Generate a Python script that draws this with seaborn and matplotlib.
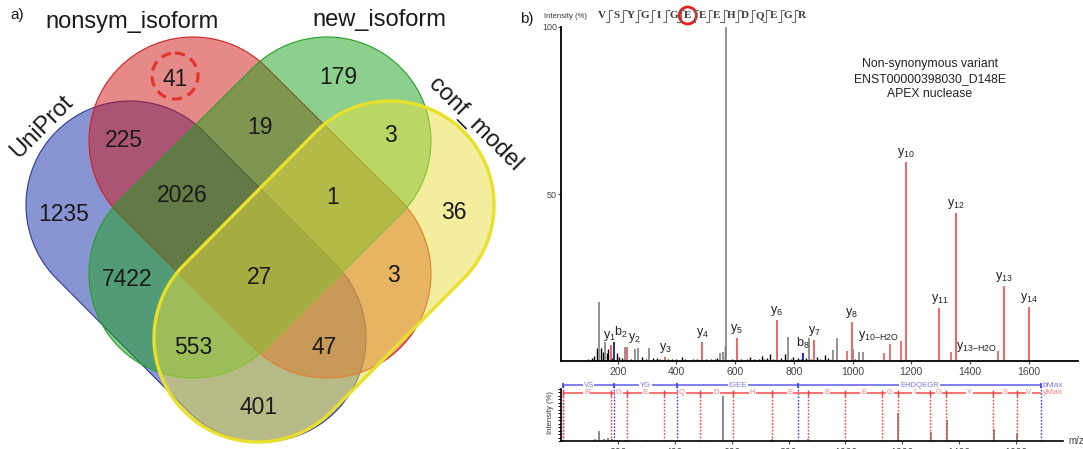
import numpy as np
import matplotlib
matplotlib.use("Agg")
import matplotlib.pyplot as plt
import seaborn as sns
from matplotlib.patches import Polygon, Circle

sns.set_theme(style="white")
plt.rcParams["font.family"] = ["Liberation Sans", "DejaVu Sans"]
plt.rcParams["mathtext.fontset"] = "custom"
plt.rcParams["mathtext.rm"] = "Liberation Sans"
plt.rcParams["mathtext.it"] = "Liberation Sans:italic"

# ---------------- panel a: four-set Venn counts ----------------
set_names = ["UniProt", "nonsym_isoform", "new_isoform", "conf_model"]
# membership codes: U=UniProt, N=nonsym_isoform, W=new_isoform, C=conf_model
region_codes = ["N", "W", "UN", "NW", "WC", "U", "UNW", "NWC", "C",
                "UW", "UNWC", "NC", "UWC", "UNC", "UC"]
region_counts = [41, 179, 225, 19, 3, 1235, 2026, 1, 36,
                 7422, 27, 3, 553, 47, 401]
highlight_region = "N"

# ---------------- panel b: annotated MS/MS spectrum ----------------
peptide = "VSYGIGEEEHDQEGR"
variant_pos = 6  # D148E substitution inside the peptide
variant_note = ["Non-synonymous variant", "ENST00000398030_D148E", "APEX nuclease"]

ion_labels = ["y$_1$", "b$_2$", "y$_2$", "y$_3$", "y$_4$", "y$_5$", "y$_6$", "b$_8$",
              "y$_7$", "y$_8$", "y$_{10}$", "y$_{11}$", "y$_{12}$", "y$_{13}$", "y$_{14}$"]
ion_mz = [176, 187, 233, 361, 488, 605, 742, 832, 869, 997, 1183, 1296, 1353, 1516, 1600]
ion_int = [4.8, 5.8, 4.3, 1.3, 5.8, 6.8, 12.3, 2.4, 6.3, 11.8, 59.7, 15.8, 44.4, 22.6, 16.1]
ion_series = ["y", "b", "y", "y", "y", "y", "y", "b", "y", "y", "y", "y", "y", "y", "y"]

loss_labels = ["y$_{10\\mathregular{-H2O}}$", "y$_{13\\mathregular{-H2O}}$"]
loss_mz = [1164, 1497]
loss_int = [6.1, 3.0]

other_y_mz = [980, 1107, 1128, 1335]
other_y_int = [3.1, 2.5, 5.1, 2.8]

gray_mz = [137, 157, 225, 259, 270, 308, 549, 558, 569, 781, 852, 935, 948, 1003, 1023, 1035]
gray_int = [17.8, 5.8, 4.1, 3.5, 3.8, 4.0, 2.5, 2.8, 100, 7.1, 7.0, 3.4, 6.9, 3.5, 2.8, 2.6]

black_mz = [100, 112, 120, 130, 143, 149, 162, 168, 180, 197, 204, 215, 245, 282, 295, 320,
            333, 345, 372, 384, 400, 418, 430, 445, 458, 469, 480, 500, 517, 530, 540, 566,
            590, 620, 640, 651, 665, 680, 691, 700, 710, 719, 728, 755, 770, 790, 798, 815,
            825, 840, 860, 880, 890, 906, 918, 930, 960, 1010, 1045, 1060, 1080]
black_int = [0.6, 0.8, 1.5, 3.9, 3.8, 2.8, 2.3, 3.6, 1.0, 2.3, 1.3, 0.9, 0.7, 1.1, 0.6, 0.8,
             0.8, 0.5, 0.6, 0.7, 0.5, 1.1, 0.6, 0.4, 0.5, 0.7, 0.4, 0.6, 0.7, 0.5, 0.9, 4.6,
             0.6, 0.7, 0.5, 1.2, 0.6, 0.7, 1.4, 0.5, 0.8, 2.0, 0.6, 0.9, 2.0, 0.7, 1.2, 0.8,
             0.6, 0.9, 0.7, 1.3, 0.6, 1.8, 1.0, 0.5, 0.4, 0.5, 0.3, 0.4, 0.3]

# fragment ladder (bottom strip)
b_ladder_mz = [187, 407, 835, 1686]
b_ladder_text = ["VS", "YG", "IGEE", "EHDQEGR"]
y_ladder_mz = [175, 232, 361, 489, 604, 741, 870, 999, 1128, 1185, 1298, 1355, 1518, 1605, 1686]
y_ladder_text = list(peptide[::-1])
ladder_start = 7

strip_mz = [120, 134, 150, 165, 180, 200, 230, 300, 420, 520, 570, 741, 870, 1000,
            1185, 1300, 1356, 1521, 1605]
strip_int = [4, 17, 4, 5, 3, 2, 2, 1.5, 1.5, 1.5, 78, 4, 3, 2,
             48, 16, 37, 20, 14]

xticks = [200, 400, 600, 800, 1000, 1200, 1400, 1600]

# ---------------- figure ----------------
W, H = 1083, 449
fig = plt.figure(figsize=(W / 100, H / 100), dpi=100)
fig.patch.set_facecolor("white")

# ---- Venn panel, drawn in a pixel-like frame ----
va = fig.add_axes([0, 0, 530 / W, 1])
va.set_xlim(0, 530)
va.set_ylim(H, 0)
va.axis("off")

radius = 104
stadium_ends = {
    "UniProt": ((130, 205), (262, 338)),
    "nonsym_isoform": ((193, 141), (327, 274)),
    "new_isoform": ((327, 141), (193, 274)),
    "conf_model": ((390, 205), (258, 338)),
}
fill_rgb = {
    "UniProt": "#152da9",
    "nonsym_isoform": "#cd1515",
    "new_isoform": "#1da11d",
    "conf_model": "#e7df3f",
}
edge_rgb = {
    "UniProt": "#2b3a9a",
    "nonsym_isoform": "#d42020",
    "new_isoform": "#22a022",
    "conf_model": "#e8e02a",
}
edge_lw = {"UniProt": 0.8, "nonsym_isoform": 0.8, "new_isoform": 0.8, "conf_model": 2.4}


def stadium(p1, p2, r, n=120):
    p1 = np.asarray(p1, float)
    p2 = np.asarray(p2, float)
    d = p2 - p1
    th = np.arctan2(d[1], d[0])
    a2 = np.linspace(th - np.pi / 2, th + np.pi / 2, n)
    a1 = np.linspace(th + np.pi / 2, th + 3 * np.pi / 2, n)
    return np.vstack([p2 + r * np.c_[np.cos(a2), np.sin(a2)],
                      p1 + r * np.c_[np.cos(a1), np.sin(a1)]])


for name in set_names:
    p1, p2 = stadium_ends[name]
    fc = matplotlib.colors.to_rgba(fill_rgb[name], 0.5)
    va.add_patch(Polygon(stadium(p1, p2, radius), closed=True, facecolor=fc,
                         edgecolor=edge_rgb[name], lw=edge_lw[name], joinstyle="round"))

region_xy = {"N": (175, 77), "W": (338, 75), "UN": (124, 138), "NW": (260, 125),
             "WC": (390, 133), "U": (64, 212), "UNW": (182, 193), "NWC": (333, 195),
             "C": (454, 210), "UW": (127, 277), "UNWC": (259, 275), "NC": (393, 273),
             "UWC": (193, 345), "UNC": (324, 345), "UC": (259, 405)}
for code, cnt in zip(region_codes, region_counts):
    x, y = region_xy[code]
    va.text(x, y, f"{cnt}", ha="center", va="center_baseline", fontsize=16.5, color="#1a1a1a")

hx, hy = region_xy[highlight_region]
va.add_patch(Circle((hx, hy - 1), 23, fill=False, edgecolor="#e2352b", lw=2.3,
                    linestyle=(0, (3.2, 1.9))))

set_label_pos = {"UniProt": (42, 127, 45), "nonsym_isoform": (132, 22, 0),
                 "new_isoform": (379, 20, 0), "conf_model": (475, 124, -45)}
for name in set_names:
    x, y, rot = set_label_pos[name]
    va.text(x, y, name, ha="center", va="center", rotation=rot, fontsize=17, color="#1a1a1a",
            rotation_mode="anchor")

# ---- main spectrum ----
ax = fig.add_axes([561 / W, 1 - 361 / H, (1078 - 561) / W, (361 - 27) / H])
ax.set_xlim(7, 1768)
ax.set_ylim(0, 100)
ax.set_facecolor("white")
red = "#f06464"
blue = "#2a2ab4"
ax.vlines(black_mz, 0, black_int, colors="black", lw=1.0)
ax.vlines(gray_mz, 0, gray_int, colors="#8a8a8a", lw=1.3)
ax.vlines(other_y_mz, 0, other_y_int, colors=red, lw=1.3)
ax.vlines(loss_mz, 0, loss_int, colors=red, lw=1.3)
ion_colors = [red if s == "y" else blue for s in ion_series]
ax.vlines(ion_mz, 0, ion_int, colors=ion_colors, lw=1.4)

label_dx = {"b$_2$": 22, "y$_2$": 24, "y$_1$": -5}
for lab, mz, it in zip(ion_labels, ion_mz, ion_int):
    ax.text(mz + label_dx.get(lab, 0), it + 0.6, lab, ha="center", va="bottom",
            fontsize=9, color="#222222")
for lab, mz, it in zip(loss_labels, loss_mz, loss_int):
    ax.text(mz - 6, it - 0.8, lab, ha="right", va="bottom", fontsize=9, color="#222222")

sns.despine(ax=ax)
for s in ["left", "bottom"]:
    ax.spines[s].set_color("black")
    ax.spines[s].set_linewidth(1.3)
ax.set_xticks(xticks)
ax.set_yticks([50, 100])
ax.tick_params(axis="x", labelsize=7.5, colors="#444444", length=2, width=0.8, pad=2,
               direction="out", bottom=True)
ax.tick_params(axis="y", labelsize=6.5, colors="#444444", length=2, width=0.8, pad=1,
               direction="out", left=True)
ax.grid(False)

# ---- fragment coverage strip ----
ax2 = fig.add_axes([561 / W, 1 - 441 / H, (1063 - 561) / W, (441 - 383) / H])
ax2.set_xlim(0, 1765)
ax2.set_ylim(0, 100)
ax2.set_facecolor("white")
b_level, y_level = 96.5, 82.8
ax2.vlines(strip_mz, 0, strip_int, colors="#777777", lw=1.2)
ax2.vlines([ladder_start] + b_ladder_mz, 0, b_level, colors="#3b3bff", lw=1.0,
           linestyles=(0, (1.2, 1.2)))
ax2.vlines([ladder_start] + y_ladder_mz[:-1], 0, y_level, colors="#ff3b3b", lw=1.0,
           linestyles=(0, (1.2, 1.2)))
ax2.hlines(b_level, ladder_start, b_ladder_mz[-1], colors="#6a6af0", lw=1.2)
ax2.hlines(y_level, ladder_start, y_ladder_mz[-1], colors="#ff5a5a", lw=1.2)
ax2.vlines([ladder_start] + b_ladder_mz, b_level - 5, b_level + 5, colors="#3b3bff", lw=1.2)
ax2.vlines([ladder_start] + y_ladder_mz[:-1], y_level - 5, y_level + 5, colors="#ff3b3b", lw=1.0)
b_edges = [ladder_start] + b_ladder_mz
for i, txt in enumerate(b_ladder_text):
    ax2.text((b_edges[i] + b_edges[i + 1]) / 2, b_level, txt, ha="center", va="center",
             fontsize=5.5, color="#7a7ae8",
             bbox=dict(boxstyle="square,pad=0.1", fc="white", ec="none"))
y_edges = [ladder_start] + y_ladder_mz
for i, txt in enumerate(y_ladder_text):
    ax2.text((y_edges[i] + y_edges[i + 1]) / 2, y_level, txt, ha="center", va="center",
             fontsize=5.5, color="#ff7a7a",
             bbox=dict(boxstyle="square,pad=0.1", fc="white", ec="none"))
ax2.text(b_ladder_mz[-1] + 8, b_level, "bMax", ha="left", va="center", fontsize=6,
         color="#7a7ae8", clip_on=False)
ax2.text(y_ladder_mz[-1] + 8, y_level, "yMax", ha="left", va="center", fontsize=6,
         color="#ff7a7a", clip_on=False)
sns.despine(ax=ax2)
for s in ["left", "bottom"]:
    ax2.spines[s].set_color("black")
    ax2.spines[s].set_linewidth(1.2)
ax2.spines["left"].set_bounds(0, 90)
ax2.set_xticks(xticks)
ax2.set_yticks(np.arange(0, 91, 6))
ax2.set_yticklabels([])
ax2.tick_params(axis="x", labelsize=7.5, colors="#444444", length=2, width=0.8, pad=3,
                bottom=True)
ax2.tick_params(axis="y", length=2, width=0.7, left=True, colors="black")
ax2.grid(False)

# ---- overlay for header, panel tags and axis captions ----
ov = fig.add_axes([0, 0, 1, 1])
ov.set_xlim(0, W)
ov.set_ylim(H, 0)
ov.axis("off")
ov.patch.set_alpha(0)

ov.text(17, 15, "a)", ha="center", va="center", fontsize=11, color="#1a1a1a")
ov.text(527, 19, "b)", ha="center", va="center", fontsize=11, color="#1a1a1a")
ov.text(565, 17, "Intensity (%)", ha="center", va="center", fontsize=5.5, color="#333333")
ov.text(551, 413, "Intensity (%)", ha="center", va="center", fontsize=5.5, color="#333333",
        rotation=90)
ov.text(1068, 441, "m/z", ha="left", va="center", fontsize=7, color="#444444")
ov.text(930, 79, "\n".join(variant_note), ha="center", va="center", fontsize=8.8,
        color="#222222", linespacing=1.38)

seq_x0, seq_dx, seq_y = 602, 14.3, 15.5
for i, aa in enumerate(peptide):
    ov.text(seq_x0 + i * seq_dx, seq_y, aa, ha="center", va="center",
            fontsize=8, fontweight="bold", color="#3a3a3a",
            family=["Liberation Serif", "DejaVu Serif"])
for i in range(len(peptide) - 1):
    xm = seq_x0 + (i + 0.5) * seq_dx
    ov.plot([xm + 3.2, xm, xm, xm - 3.2], [9.5, 9.5, 21.5, 21.5], color="#6a6a6a", lw=0.8)
ov.add_patch(Circle((seq_x0 + variant_pos * seq_dx, seq_y), 8.5, fill=False,
                    edgecolor="#e3201b", lw=2.0))

fig.savefig("out.png", dpi=100)
